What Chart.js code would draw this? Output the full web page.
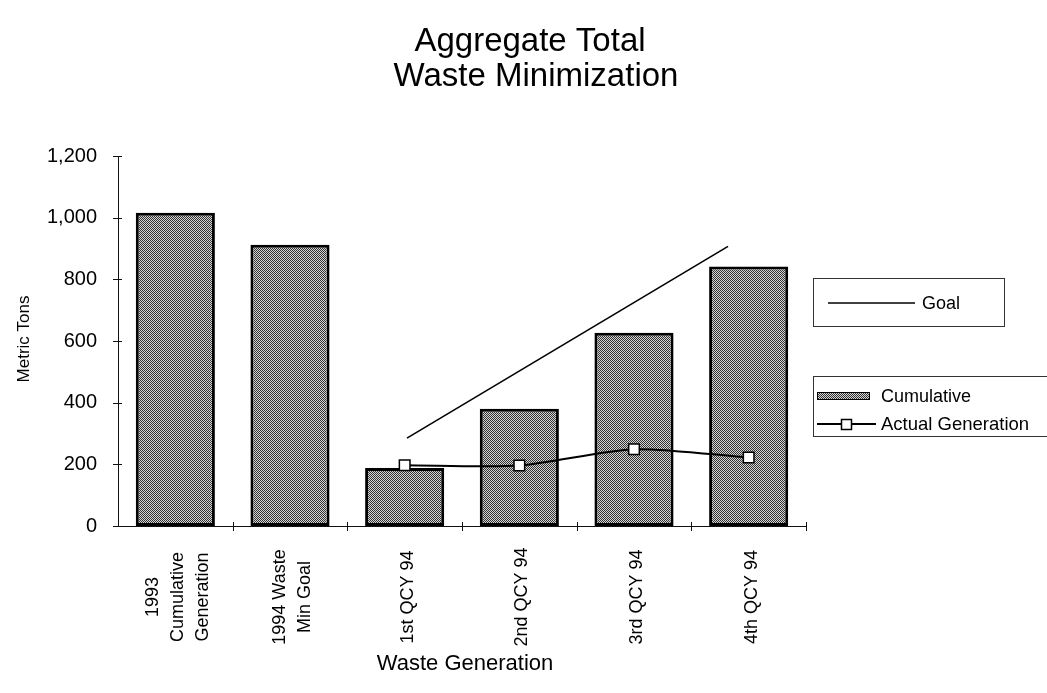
<!DOCTYPE html>
<html>
<head>
<meta charset="utf-8">
<script src="https://cdn.jsdelivr.net/npm/chart.js@4.4.1/dist/chart.umd.min.js"></script>
<style>
  html, body { margin: 0; padding: 0; background: #ffffff; }
  #wrap { width: 1047px; height: 693px; position: relative; }
</style>
</head>
<body>
<div id="wrap"><canvas id="c" width="1047" height="693"></canvas></div>
<script>
// ---- data ----
const categories = [
  ["1993", "Cumulative", "Generation"],
  ["1994 Waste", "Min Goal"],
  ["1st QCY 94"],
  ["2nd QCY 94"],
  ["3rd QCY 94"],
  ["4th QCY 94"]
];
const cumulativeValues = [1016, 912, 188, 380, 627, 842];
const actualGeneration = [null, null, 197, 196, 249, 222];
const goalX = [2.02, 4.82];
const goalY = [285, 907];
const yTicks = [0, 200, 400, 600, 800, 1000, 1200];
const titleLines = ["Aggregate Total", "Waste Minimization"];
const yTitle = "Metric Tons";
const xTitle = "Waste Generation";

// ---- pattern for stippled bars ----
function makePattern() {
  const pc = document.createElement('canvas');
  pc.width = 2; pc.height = 2;
  const p = pc.getContext('2d');
  p.fillStyle = '#d4d4d4'; p.fillRect(0, 0, 2, 2);
  p.fillStyle = '#333333'; p.fillRect(0, 0, 1, 1); p.fillRect(1, 1, 1, 1);
  return document.getElementById('c').getContext('2d').createPattern(pc, 'repeat');
}
const stipple = makePattern();
const FONT = "'Liberation Sans', Arial, Helvetica, sans-serif";

const decor = {
  id: 'decor',
  afterDraw(chart) {
    const ctx = chart.ctx;
    const xs = chart.scales.x, ys = chart.scales.y;
    const area = chart.chartArea;
    ctx.save();
    ctx.fillStyle = '#000';
    ctx.strokeStyle = '#111';
    // title
    ctx.font = "33px " + FONT;
    ctx.textAlign = 'center'; ctx.textBaseline = 'middle';
    ctx.fillText(titleLines[0], 530, 42);
    ctx.fillText(titleLines[1], 536, 77);
    // y axis crossing ticks
    ctx.lineWidth = 1;
    yTicks.forEach(v => {
      const y = Math.round(ys.getPixelForValue(v)) + 0.5;
      ctx.beginPath(); ctx.moveTo(area.left - 5, y); ctx.lineTo(area.left + 4, y); ctx.stroke();
    });
    // x axis crossing ticks at category boundaries
    const w = (area.right - area.left) / categories.length;
    for (let i = 1; i <= categories.length; i++) {
      const x = Math.round(area.left + i * w) + 0.5;
      ctx.beginPath(); ctx.moveTo(x, area.bottom - 4); ctx.lineTo(x, area.bottom + 5); ctx.stroke();
    }
    // rotated x labels, centered block
    ctx.font = "18px " + FONT;
    ctx.textAlign = 'center'; ctx.textBaseline = 'middle';
    categories.forEach((lines, i) => {
      const cx = xs.getPixelForValue(i);
      const lh = 25;
      lines.forEach((t, j) => {
        const off = (j - (lines.length - 1) / 2) * lh;
        ctx.save();
        ctx.translate(cx + off + 3, 597);
        ctx.rotate(-Math.PI / 2);
        ctx.fillText(t, 0, 0);
        ctx.restore();
      });
    });
    // axis titles
    ctx.font = "22px " + FONT;
    ctx.fillText(xTitle, (area.left + area.right) / 2 + 3, 664);
    ctx.save();
    ctx.translate(24, 339);
    ctx.rotate(-Math.PI / 2);
    ctx.font = "17px " + FONT;
    ctx.fillText(yTitle, 0, 0);
    ctx.restore();

    // legend box 1 (Goal)
    ctx.lineWidth = 1;
    ctx.strokeStyle = '#333';
    ctx.strokeRect(813.5, 278.5, 191, 48);
    ctx.strokeStyle = '#000'; ctx.lineWidth = 1.6;
    ctx.beginPath(); ctx.moveTo(828, 303); ctx.lineTo(915, 303); ctx.stroke();
    ctx.font = "18px " + FONT; ctx.textAlign = 'left';
    ctx.fillText(chart.data.datasets[2].label, 922, 304);

    // legend box 2
    ctx.lineWidth = 1; ctx.strokeStyle = '#333';
    ctx.strokeRect(813.5, 376.5, 240, 60);
    ctx.fillStyle = stipple;
    ctx.fillRect(817, 392, 53, 8);
    ctx.strokeStyle = '#000'; ctx.lineWidth = 1;
    ctx.strokeRect(817.5, 392.5, 52, 7);
    ctx.fillStyle = '#000';
    ctx.fillText(chart.data.datasets[0].label, 881, 397);
    ctx.lineWidth = 2;
    ctx.beginPath(); ctx.moveTo(817, 424); ctx.lineTo(876, 424); ctx.stroke();
    ctx.fillStyle = '#fff'; ctx.lineWidth = 1.5;
    ctx.fillRect(841, 419, 11, 11); ctx.strokeRect(841.5, 419.5, 10, 10);
    ctx.fillStyle = '#000';
    ctx.font = "18.5px " + FONT;
    ctx.fillText(chart.data.datasets[1].label, 881, 425);
    ctx.restore();
  }
};

new Chart(document.getElementById('c'), {
  type: 'bar',
  data: {
    labels: categories.map(l => l.join(' ')),
    datasets: [
      {
        type: 'bar',
        label: 'Cumulative',
        data: cumulativeValues,
        backgroundColor: stipple,
        borderColor: '#000',
        borderWidth: 3,
        borderSkipped: false,
        grouped: false,
        barPercentage: 0.69,
        categoryPercentage: 1.0,
        order: 3
      },
      {
        type: 'line',
        label: 'Actual Generation',
        data: actualGeneration,
        borderColor: '#000',
        borderWidth: 2,
        tension: 0.25,
        pointStyle: 'rect',
        pointRadius: 7.5,
        pointBackgroundColor: '#fff',
        pointBorderColor: '#000',
        pointBorderWidth: 1.5,
        fill: false,
        order: 1
      },
      {
        type: 'line',
        label: 'Goal',
        xAxisID: 'xg',
        data: goalX.map((x, i) => ({ x: x, y: goalY[i] })),
        borderColor: '#000',
        borderWidth: 1.6,
        pointRadius: 0,
        tension: 0,
        fill: false,
        order: 2
      }
    ]
  },
  options: {
    responsive: false,
    animation: false,
    layout: { padding: { top: 156, right: 241, bottom: 0, left: 0 } },
    plugins: {
      legend: { display: false },
      title: { display: false },
      tooltip: { enabled: false }
    },
    scales: {
      x: {
        type: 'category',
        offset: true,
        grid: { display: false, drawTicks: false },
        border: { display: true, color: '#111', width: 1 },
        ticks: { display: false },
        afterFit(s) { s.height = 167; }
      },
      xg: {
        type: 'linear',
        min: -0.5,
        max: 5.5,
        offset: false,
        bounds: 'data',
        grace: 0,
        display: false
      },
      y: {
        min: 0,
        max: 1200,
        afterBuildTicks(s) { s.ticks = yTicks.map(v => ({ value: v })); },
        grid: { display: false, drawTicks: false },
        border: { display: true, color: '#111', width: 1 },
        ticks: {
          padding: 21,
          color: '#000',
          font: { family: FONT, size: 20 },
          callback: v => v.toLocaleString('en-US')
        },
        afterFit(s) { s.width = 118; }
      }
    }
  },
  plugins: [decor]
});
</script>
</body>
</html>
